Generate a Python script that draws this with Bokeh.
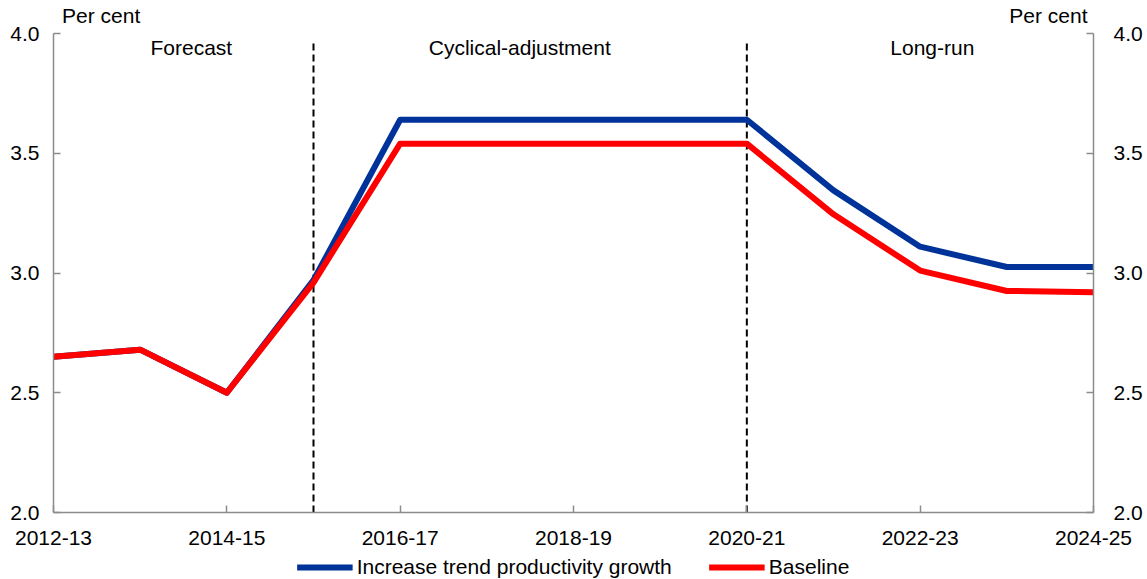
from bokeh.plotting import figure
from bokeh.layouts import column
from bokeh.models import (Range1d, LinearAxis, FixedTicker, Legend, LegendItem, Label)
from bokeh.embed import file_html
from bokeh.resources import INLINE

years = ["2012-13", "2013-14", "2014-15", "2015-16", "2016-17", "2017-18", "2018-19",
         "2019-20", "2020-21", "2021-22", "2022-23", "2023-24", "2024-25"]
productivity = [2.65, 2.68, 2.50, 2.97, 3.64, 3.64, 3.64, 3.64, 3.64, 3.345, 3.11, 3.025, 3.025]
baseline = [2.65, 2.68, 2.50, 2.96, 3.54, 3.54, 3.54, 3.54, 3.54, 3.245, 3.01, 2.925, 2.92]
series_names = ["Increase trend productivity growth", "Baseline"]
label_years = ["2012-13", "2014-15", "2016-17", "2018-19", "2020-21", "2022-23", "2024-25"]
y_ticks = [2.0, 2.5, 3.0, 3.5, 4.0]
divider_years = ["2015-16", "2020-21"]
region_names = ["Forecast", "Cyclical-adjustment", "Long-run"]
unit_text = "Per cent"

FONT = "Liberation Sans"
FS = "21px"
AXIS_COLOR = "#8c8c8c"
BLUE = "#003399"
RED = "#FF0000"
REGION_POS = [1.59, 5.38, 10.14]
UNIT_POS = [0.55, 11.48]

xs = list(range(len(years)))
idx = {y: i for i, y in enumerate(years)}

p = figure(width=1147, height=555, output_backend="svg", toolbar_location=None,
           x_range=Range1d(0, len(years) - 1), y_range=Range1d(y_ticks[0], y_ticks[-1]),
           min_border_left=53, min_border_right=54, min_border_top=33, min_border_bottom=43)
p.outline_line_color = None
p.xgrid.visible = False
p.ygrid.visible = False
p.background_fill_color = "white"
p.border_fill_color = "white"

def style_axis(ax):
    ax.axis_line_color = AXIS_COLOR
    ax.axis_line_width = 1.5
    ax.major_tick_line_color = AXIS_COLOR
    ax.major_tick_line_width = 1.5
    ax.major_tick_in = 7
    ax.major_tick_out = 0
    ax.minor_tick_line_color = None
    ax.major_label_text_font = FONT
    ax.major_label_text_font_size = FS
    ax.major_label_text_color = "black"

# x axis
xa = p.xaxis[0]
style_axis(xa)
xa.ticker = FixedTicker(ticks=[idx[y] for y in label_years])
xa.major_label_overrides = {idx[y]: y for y in label_years}
xa.major_label_standoff = 18

# left y axis
ya = p.yaxis[0]
style_axis(ya)
ya.ticker = FixedTicker(ticks=y_ticks)
ya.major_label_overrides = {t: f"{t:.1f}" for t in y_ticks}
ya.major_label_standoff = 14

# right y axis
yr = LinearAxis(ticker=FixedTicker(ticks=y_ticks))
style_axis(yr)
yr.major_label_overrides = {t: f"{t:.1f}" for t in y_ticks}
yr.major_label_standoff = 20
p.add_layout(yr, "right")

# "Per cent" unit labels via a bare top axis
ta = LinearAxis(ticker=FixedTicker(ticks=UNIT_POS))
ta.major_label_overrides = {t: unit_text for t in UNIT_POS}
ta.axis_line_color = None
ta.major_tick_line_color = None
ta.minor_tick_line_color = None
ta.major_label_text_font = FONT
ta.major_label_text_font_size = FS
ta.major_label_text_color = "black"
ta.major_label_standoff = 1
p.add_layout(ta, "above")

# divider dashed lines
dx = [idx[d] for d in divider_years]
p.segment(x0=dx, x1=dx, y0=[y_ticks[0]] * len(dx), y1=[y_ticks[-1] - 0.025] * len(dx),
          line_color="black", line_width=2, line_dash="7 4")

# series
p.line(xs, productivity, line_color=BLUE, line_width=6, line_join="round")
p.line(xs, baseline, line_color=RED, line_width=6, line_join="round")

# region labels
for name, xpos in zip(region_names, REGION_POS):
    p.add_layout(Label(x=xpos, y=3.94, text=name, text_align="center", text_baseline="middle",
                       text_font=FONT, text_font_size=FS, text_color="black"))

# legend strip below the chart (same series, drawn outside its visible range)
lg = figure(width=1147, height=24, output_backend="svg", toolbar_location=None,
            x_range=Range1d(0, 1), y_range=Range1d(0, 1),
            x_axis_type=None, y_axis_type=None,
            min_border_left=0, min_border_right=0, min_border_top=0, min_border_bottom=0)
lg.outline_line_color = None
lg.xgrid.visible = False
lg.ygrid.visible = False
lg.background_fill_color = "white"
lg.border_fill_color = "white"
lb = lg.line(xs, productivity, line_color=BLUE, line_width=6)
lr = lg.line(xs, baseline, line_color=RED, line_width=6)

legend = Legend(items=[LegendItem(label=series_names[0], renderers=[lb]),
                       LegendItem(label=series_names[1], renderers=[lr])],
                orientation="horizontal", location="center")
legend.label_text_font = FONT
legend.label_text_font_size = FS
legend.label_text_color = "black"
legend.glyph_width = 56
legend.glyph_height = 20
legend.label_height = 20
legend.label_standoff = 4
legend.spacing = 37
legend.padding = 0
legend.margin = 0
legend.border_line_color = None
legend.background_fill_alpha = 0
lg.add_layout(legend, "center")

layout = column(p, lg, spacing=0)
open("out.html", "w").write(file_html(layout, INLINE))
